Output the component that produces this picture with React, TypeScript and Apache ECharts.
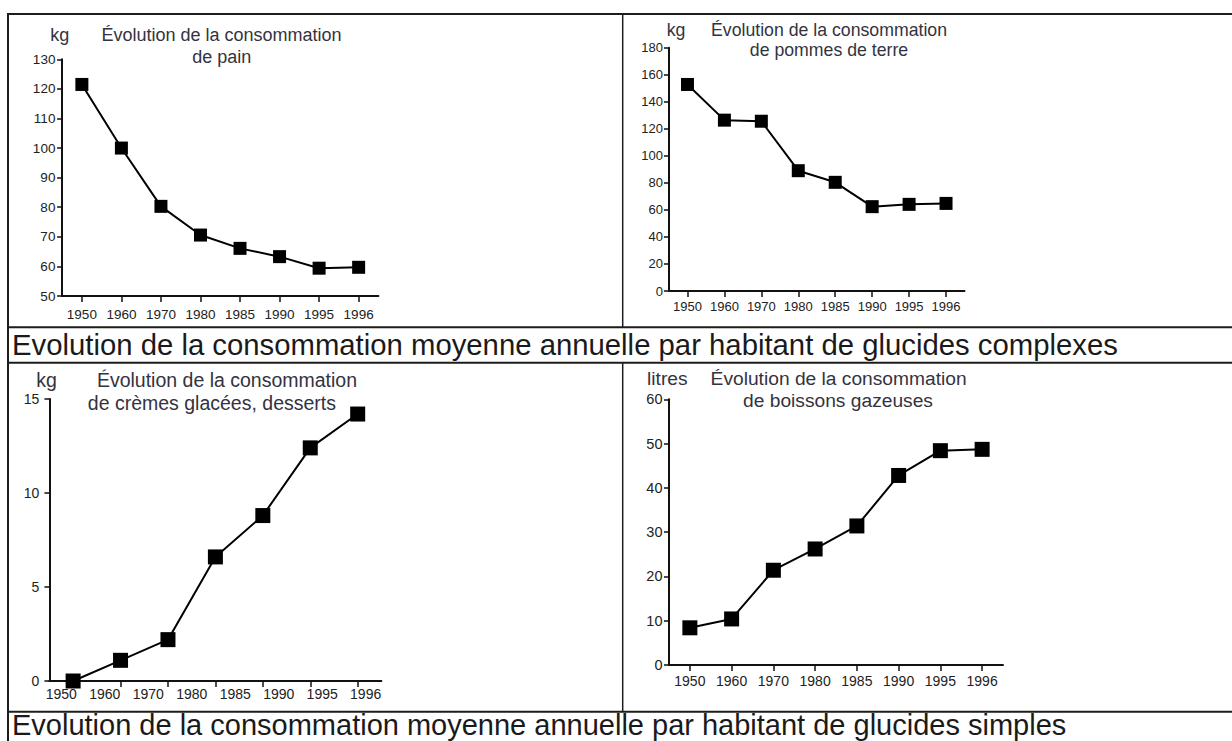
import React, { useEffect, useRef } from 'react';
import * as echarts from 'echarts';

// ---- data ----
const painYears = ['1950', '1960', '1970', '1980', '1985', '1990', '1995', '1996'];
const painValues = [121.5, 100, 80.3, 70.6, 66.1, 63.3, 59.4, 59.7];

const pommesYears = ['1950', '1960', '1970', '1980', '1985', '1990', '1995', '1996'];
const pommesValues = [152.8, 126.4, 125.6, 89, 80.4, 62.4, 64.1, 64.8];

// seven plotted points (on the ticks) but eight printed year labels
const glaceesPoints = ['1950', '1960', '1970', '1980', '1985', '1990', '1995'];
const glaceesValues = [0, 1.1, 2.2, 6.6, 8.8, 12.4, 14.2];
const glaceesTickLabels = ['1950', '1960', '1970', '1980', '1985', '1990', '1995', '1996'];

const boissonsYears = ['1950', '1960', '1970', '1980', '1985', '1990', '1995', '1996'];
const boissonsValues = [8.4, 10.4, 21.4, 26.2, 31.4, 42.8, 48.4, 48.7];

const captionComplexes = 'Evolution de la consommation moyenne annuelle par habitant de glucides complexes';
const captionSimples = 'Evolution de la consommation moyenne annuelle par habitant de glucides simples';

const INK = '#111111';
const LABEL = '#222222';
const TITLE = '#33333f';
const BORDER = '#1d1d1b';
const FONT = '"Liberation Sans", Arial, sans-serif';

function xAxisOf(gridIndex: number, data: string[], fontSize: number, margin: number) {
  return {
    type: 'category',
    gridIndex,
    data,
    boundaryGap: true,
    axisLine: { show: true, onZero: false, lineStyle: { color: INK, width: 2 } },
    axisTick: { show: true, alignWithLabel: true, interval: 0, length: 6, lineStyle: { color: INK, width: 1.5 } },
    axisLabel: { show: true, interval: 0, color: LABEL, fontSize, fontFamily: FONT, margin },
    splitLine: { show: false },
  };
}

function yAxisOf(gridIndex: number, min: number, max: number, interval: number, fontSize: number, margin: number) {
  return {
    type: 'value',
    gridIndex,
    min,
    max,
    interval,
    axisLine: { show: true, lineStyle: { color: INK, width: 2 } },
    axisTick: { show: true, length: 5, lineStyle: { color: INK, width: 1.5 } },
    axisLabel: { show: true, color: LABEL, fontSize, fontFamily: FONT, margin },
    splitLine: { show: false },
  };
}

function lineSeries(idx: number, data: number[], size: number) {
  return {
    type: 'line',
    xAxisIndex: idx,
    yAxisIndex: idx,
    data,
    symbol: 'rect',
    symbolSize: size,
    showAllSymbol: true,
    itemStyle: { color: '#000' },
    lineStyle: { color: '#000', width: 2 },
    z: 3,
  };
}

function txt(text: string, x: number, y: number, size: number, align: string, color: string) {
  return {
    type: 'text',
    x,
    y,
    silent: true,
    style: {
      text,
      font: `${size}px ${FONT}`,
      fill: color,
      align,
      textAlign: align,
      verticalAlign: 'middle',
      textVerticalAlign: 'middle',
    },
  };
}

function ln(x1: number, y1: number, x2: number, y2: number, w: number) {
  return {
    type: 'line',
    silent: true,
    shape: { x1, y1, x2, y2 },
    style: { stroke: BORDER, lineWidth: w },
  };
}

export default function App() {
  const ref = useRef<HTMLDivElement>(null);

  useEffect(() => {
    if (!ref.current) return;
    const chart = echarts.init(ref.current, null, { renderer: 'svg' });

    const option = {
      animation: false,
      backgroundColor: '#ffffff',
      grid: [
        { left: 62.1, top: 59.3, width: 316.3, height: 236.7 },
        { left: 669, top: 47.7, width: 295.5, height: 243.3 },
        { left: 49.4, top: 399, width: 332, height: 282 },
        { left: 669, top: 399.3, width: 334, height: 265.7 },
        { left: 39.6, top: 399, width: 347.8, height: 282 },
      ],
      xAxis: [
        xAxisOf(0, painYears, 13.5, 11.5),
        xAxisOf(1, pommesYears, 13, 9.2),
        { ...xAxisOf(2, glaceesPoints, 14, 6), axisLabel: { show: false } },
        xAxisOf(3, boissonsYears, 14, 9),
        {
          ...xAxisOf(4, glaceesTickLabels, 14, 6.3),
          axisLine: { show: false },
          axisTick: { show: false },
        },
      ],
      yAxis: [
        yAxisOf(0, 50, 130, 10, 13.5, 6.7),
        yAxisOf(1, 0, 180, 20, 13, 6),
        yAxisOf(2, 0, 15, 5, 14, 10),
        yAxisOf(3, 0, 60, 10, 14.5, 6.5),
        { type: 'value', gridIndex: 4, min: 0, max: 1, show: false },
      ],
      series: [
        lineSeries(0, painValues, 13),
        lineSeries(1, pommesValues, 13),
        lineSeries(2, glaceesValues, 15),
        lineSeries(3, boissonsValues, 15),
      ],
      graphic: [
        // table borders
        ln(7, 14, 1232, 14, 2),
        ln(8, 13, 8, 741, 2),
        ln(8, 327.3, 1232, 327.3, 2),
        ln(8, 362.7, 1232, 362.7, 2),
        ln(8, 711.7, 1232, 711.7, 2),
        ln(622.7, 14, 622.7, 327.3, 1.5),
        ln(622.7, 362.7, 622.7, 711.7, 1.5),
        // captions
        txt(captionComplexes, 12, 344.5, 29.3, 'left', '#1a1a1a'),
        txt(captionSimples, 12, 725, 29, 'left', '#1a1a1a'),
        // panel 1
        txt('kg', 59.7, 34.5, 18, 'center', TITLE),
        txt('Évolution de la consommation', 221.5, 34.5, 18, 'center', TITLE),
        txt('de pain', 221.8, 56.5, 18, 'center', TITLE),
        // panel 2
        txt('kg', 676, 30, 17.7, 'center', TITLE),
        txt('Évolution de la consommation', 829, 30, 17.7, 'center', TITLE),
        txt('de pommes de terre', 829, 50, 17.7, 'center', TITLE),
        // panel 3
        txt('kg', 46.5, 380, 19.5, 'center', TITLE),
        txt('Évolution de la consommation', 96.9, 380, 19.5, 'left', TITLE),
        txt('de crèmes glacées, desserts', 87.8, 403.2, 19.5, 'left', TITLE),
        // panel 4
        txt('litres', 667.3, 378.4, 19.2, 'center', TITLE),
        txt('Évolution de la consommation', 838.6, 378.4, 19.2, 'center', TITLE),
        txt('de boissons gazeuses', 838, 400.1, 19.2, 'center', TITLE),
      ],
    };

    chart.setOption(option as any);
    return () => {
      chart.dispose();
    };
  }, []);

  return (
    <div
      ref={ref}
      style={{ position: 'absolute', left: 0, top: 0, width: 1232, height: 741, background: '#fff' }}
    />
  );
}
